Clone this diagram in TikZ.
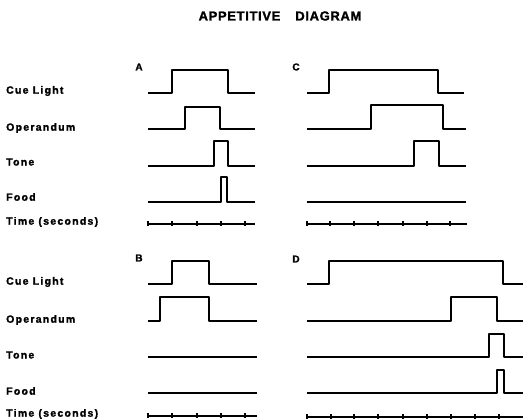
\documentclass[tikz,border=0pt]{standalone}
\usepackage{fontspec}
\setmainfont{Liberation Sans}
\newfontfamily\labfont[LetterSpace=12,FakeBold=1.5]{Liberation Sans Bold}
\newfontfamily\titfont[LetterSpace=5,FakeBold=1.5]{Liberation Sans Bold}
\newfontfamily\pfont[FakeBold=1.5]{Liberation Sans Bold}
\begin{document}
\begin{tikzpicture}[x=1pt,y=-1pt,
  sig/.style={line width=1.9pt,line join=round,line cap=butt},
  lab/.style={anchor=west,inner sep=0pt,font=\labfont\fontsize{10.5}{12}\selectfont},
  plab/.style={inner sep=0pt,font=\pfont\fontsize{10}{12}\selectfont},
  tickmark/.style={line width=1.4pt}]
\useasboundingbox (0,0) rectangle (523,419);
\node[inner sep=0pt,font=\titfont\fontsize{13}{15}\selectfont] (title) at (280,16) {APPETITIVE\hspace{15pt}DIAGRAM};
% labels top
\node[lab] (cueA) at (6,91) {Cue Light};
\node[lab] (opA) at (6,128) {Operandum};
\node[lab] (toneA) at (6,162) {Tone};
\node[lab] (foodA) at (6,197) {Food};
\node[lab] (timeA) at (6,222) {Time (seconds)};
% labels bottom
\node[lab] (cueB) at (6,282) {Cue Light};
\node[lab] (opB) at (6,320) {Operandum};
\node[lab] (toneB) at (6,355) {Tone};
\node[lab] (foodB) at (6,391) {Food};
\node[lab] (timeB) at (6,414) {Time (seconds)};
% panel letters
\node[plab] (pA) at (139,67) {A};
\node[plab] (pC) at (296,67) {C};
\node[plab] (pB) at (139,258) {B};
\node[plab] (pD) at (296,259) {D};
% Panel A
\draw[sig] (148,93) -- (172,93) -- (172,70) -- (228,70) -- (228,93) -- (255,93);
\draw[sig] (148,129) -- (185,129) -- (185,107) -- (220,107) -- (220,129) -- (255,129);
\draw[sig] (148,166) -- (214,166) -- (214,141) -- (228,141) -- (228,166) -- (255,166);
\draw[sig] (148,202) -- (221,202) -- (221,177) -- (227,177) -- (227,202) -- (255,202);
\draw[sig] (148,224) -- (255,224);
\foreach \t in {148,172,197,221,245} \draw[tickmark] (\t,221.5) -- (\t,226);
% Panel C
\draw[sig] (307,93) -- (329,93) -- (329,70) -- (438,70) -- (438,93) -- (464,93);
\draw[sig] (307,129) -- (371,129) -- (371,105) -- (443,105) -- (443,129) -- (466,129);
\draw[sig] (307,166) -- (414,166) -- (414,141) -- (439,141) -- (439,166) -- (466,166);
\draw[sig] (307,202) -- (466,202);
\draw[sig] (307,224) -- (467,224);
\foreach \t in {307,330,354,378,403,427,450} \draw[tickmark] (\t,221.5) -- (\t,226);
% Panel B
\draw[sig] (148,284) -- (172,284) -- (172,261) -- (209,261) -- (209,284) -- (257,284);
\draw[sig] (148,321) -- (160,321) -- (160,297) -- (209,297) -- (209,321) -- (257,321);
\draw[sig] (148,357) -- (257,357);
\draw[sig] (148,393) -- (257,393);
\draw[sig] (148,416) -- (257,416);
\foreach \t in {148,172,197,221,245} \draw[tickmark] (\t,413.5) -- (\t,418);
% Panel D
\draw[sig] (307,284) -- (329,284) -- (329,261) -- (503,261) -- (503,284) -- (523,284);
\draw[sig] (307,321) -- (451,321) -- (451,297) -- (497,297) -- (497,321) -- (523,321);
\draw[sig] (307,357) -- (489,357) -- (489,334) -- (504,334) -- (504,357) -- (523,357);
\draw[sig] (307,393) -- (497,393) -- (497,370) -- (504,370) -- (504,393) -- (523,393);
\draw[sig] (307,417) -- (523,417);
\foreach \t in {307,331,354,378,403,427,451,475,499} \draw[tickmark] (\t,414.5) -- (\t,419);
\end{tikzpicture}
\end{document}
